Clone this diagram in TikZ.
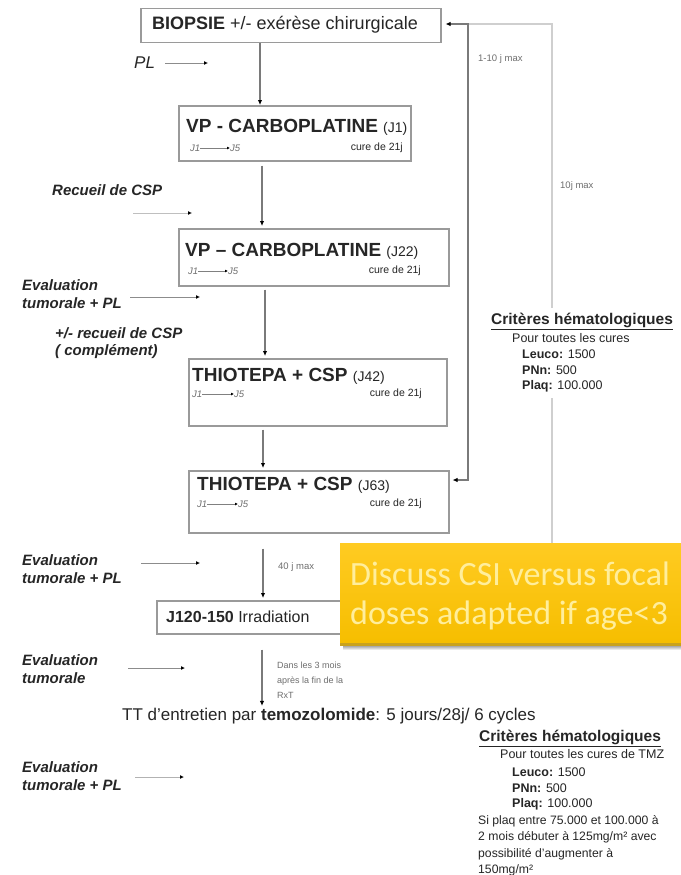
\documentclass[tikz,border=0pt]{standalone}
\usepackage{fontspec}
\setmainfont{Liberation Sans}
\newfontfamily\calloutfont{Carlito}
\usetikzlibrary{arrows.meta}

\newcommand\fsz[2]{\fontsize{#1}{#2}\selectfont}
\newcommand\dayfont{\fsz{14}{16}\mdseries}

\definecolor{frame}{HTML}{9A9A9A}
\definecolor{flow}{HTML}{7A7A7A}
\definecolor{ink}{HTML}{262626}
\definecolor{softink}{HTML}{6E6E6E}
\definecolor{gold}{HTML}{F6BE00}
\definecolor{goldlight}{HTML}{FFCB22}
\definecolor{golddark}{HTML}{C9A21C}
\definecolor{goldtext}{HTML}{FFEE9C}
\definecolor{shade}{HTML}{EBDDE8}
\definecolor{paleline}{HTML}{CFCFCF}

\begin{document}
\begin{tikzpicture}[x=1pt,y=-1pt,
  stepbox/.style={draw=frame, line width=1.5pt, inner sep=0pt, anchor=north west},
  txt/.style={anchor=west, inner sep=0pt, text=ink},
  title/.style={txt, font=\fsz{19}{22}\bfseries},
  tiny/.style={anchor=west, inner sep=0pt, text=softink, font=\fsz{9.5}{11}},
  cure/.style={anchor=east, inner sep=0pt, text=ink, font=\fsz{10.5}{12}},
  side/.style={anchor=west, inner sep=0pt, text=ink, align=left, font=\fsz{15}{17.5}\bfseries\itshape},
  crit/.style={anchor=west, inner sep=0pt, text=ink, font=\fsz{12.5}{14}},
  vflow/.style={draw=flow, line width=1.2pt, -{Latex[length=5pt,width=4.5pt,color=black]}},
  sidearrow/.style={draw=black!45, line width=0.8pt, -{Latex[length=4pt,width=4pt,color=black]}},
  inarrow/.style={draw=black!50, line width=0.6pt, -{Latex[length=3pt,width=3pt,color=black]}},
  callout/.style={anchor=west, inner sep=0pt, text=goldtext, font=\calloutfont\fsz{34}{36}},
]
\path[use as bounding box, fill=white] (0,0) rectangle (680,875);

% ---------- main column of treatment steps ----------
\node[stepbox, minimum width=300, minimum height=34] (biop) at (140,8) {};
\node[txt, font=\fsz{18}{20}] (biopt) at (152,25) {\textbf{BIOPSIE} +/- exérèse chirurgicale};

\node[stepbox, minimum width=232, minimum height=55] (vp1) at (178,105) {};
\node[title] (vp1t) at (186,127) {VP - CARBOPLATINE {\dayfont (J1)}};
\node[tiny, font=\fsz{9.5}{11}\itshape] (vp1a) at (190,148) {J1};
\node[tiny, font=\fsz{9.5}{11}\itshape] (vp1b) at (230,148) {J5};
\draw[inarrow] (vp1a.east) -- (vp1b.west);
\node[cure] at (403,148) {cure de 21j};

\node[stepbox, minimum width=270, minimum height=57] (vp2) at (178,228) {};
\node[title] (vp2t) at (185,251) {VP – CARBOPLATINE {\dayfont (J22)}};
\node[tiny, font=\fsz{9.5}{11}\itshape] (vp2a) at (188,271) {J1};
\node[tiny, font=\fsz{9.5}{11}\itshape] (vp2b) at (228,271) {J5};
\draw[inarrow] (vp2a.east) -- (vp2b.west);
\node[cure] at (421,271) {cure de 21j};

\node[stepbox, minimum width=258, minimum height=67] (th1) at (188,358) {};
\node[title] (th1t) at (192,376) {THIOTEPA + CSP {\dayfont (J42)}};
\node[tiny, font=\fsz{9.5}{11}\itshape] (th1a) at (192,394) {J1};
\node[tiny, font=\fsz{9.5}{11}\itshape] (th1b) at (234,394) {J5};
\draw[inarrow] (th1a.east) -- (th1b.west);
\node[cure] at (422,394) {cure de 21j};

\node[stepbox, minimum width=260, minimum height=62] (th2) at (188,470) {};
\node[title] (th2t) at (197,485) {THIOTEPA + CSP {\dayfont (J63)}};
\node[tiny, font=\fsz{9.5}{11}\itshape] (th2a) at (197,504) {J1};
\node[tiny, font=\fsz{9.5}{11}\itshape] (th2b) at (238,504) {J5};
\draw[inarrow] (th2a.east) -- (th2b.west);
\node[cure] at (422,504) {cure de 21j};

\node[stepbox, minimum width=200, minimum height=33] (rt) at (156,600) {};
\node[txt, font=\fsz{16}{18}] (rtt) at (166,617) {\textbf{J120-150} Irradiation};

\node[txt, font=\fsz{17}{19}] (tt) at (122,716) {TT d'entretien par \textbf{temozolomide}: 5 jours/28j/ 6 cycles};

% ---------- vertical flow arrows ----------
\coordinate (c1) at (260,0);
\coordinate (c2) at (262,0);
\coordinate (c3) at (265,0);
\coordinate (c4) at (263,0);
\draw[vflow] (biop.south -| c1) -- (vp1.north -| c1);
\draw[vflow] ([yshift=-4pt]vp1.south -| c2) -- ([yshift=2pt]vp2.north -| c2);
\draw[vflow] ([yshift=-3pt]vp2.south -| c3) -- ([yshift=2pt]th1.north -| c3);
\draw[vflow] ([yshift=-3pt]th1.south -| c4) -- ([yshift=2pt]th2.north -| c4);
\draw[vflow] ([yshift=-15pt]th2.south -| c4) -- ([yshift=2pt]rt.north -| c4);
\draw[vflow] ([yshift=-15pt]rt.south -| c2) -- ([yshift=2pt]tt.north -| c2);

\node[tiny] at (278,567) {40 j max};
\node[tiny, align=left, font=\fsz{9}{15}] at (277,680) {Dans les 3 mois\\après la fin de la\\RxT};

% ---------- timing connectors on the right ----------
\coordinate (r1) at (468,24);
\coordinate (r2) at (468,480);
\coordinate (g1) at (552,24);
\draw[draw=paleline, line width=2pt] (r1) -- (g1) -- (552,543);
\draw[draw=flow, line width=1.3pt, {Latex[length=5pt,width=4.5pt,color=black]}-{Latex[length=5pt,width=4.5pt,color=black]}, shorten <=4pt, shorten >=3pt]
  (biop.east |- r1) -- (r1) -- (r2) -- (th2.east |- r2);
\node[tiny] at (478,59) {1-10 j max};
\node[tiny] at (560,186) {10j max};

% ---------- haematological criteria ----------
\fill[white] (486,308) rectangle (680,398);
\node[crit, font=\fsz{15.5}{17}\bfseries] at (491,321) {\underline{Critères hématologiques}};
\node[crit] at (512,338) {Pour toutes les cures};
\node[crit] at (522,354) {\textbf{Leuco:} 1500};
\node[crit] at (522,370) {\textbf{PNn:} 500};
\node[crit] at (522,386) {\textbf{Plaq:} 100.000};

\node[crit, font=\fsz{15.5}{17}\bfseries] at (479,738) {\underline{Critères hématologiques}};
\node[crit] at (500,754) {Pour toutes les cures de TMZ};
\node[crit] at (512,772) {\textbf{Leuco:} 1500};
\node[crit] at (512,788) {\textbf{PNn:} 500};
\node[crit] at (512,804) {\textbf{Plaq:} 100.000};
\node[crit, anchor=north west, align=left, font=\fsz{12.2}{16.5}] at (478,815)
  {Si plaq entre 75.000 et 100.000 à\\2 mois débuter à 125mg/m² avec\\possibilité d'augmenter à\\150mg/m²};

% ---------- assessments on the left ----------
\node[txt, font=\fsz{17}{20}\itshape] (pl) at (134,63) {PL};
\coordinate (pl2) at (208,63);
\draw[sidearrow] ([xshift=10pt]pl.east) -- (pl2);

\node[side] (csp) at (52,190) {Recueil de CSP};
\coordinate (csp1) at (133,213);
\coordinate (csp2) at (192,213);
\draw[sidearrow, draw=black!25] (csp1) -- (csp2);

\node[side] (ev1) at (22,294) {Evaluation\\tumorale + PL};
\coordinate (ev1b) at (200,297);
\draw[sidearrow] ([xshift=8pt]ev1.east |- ev1b) -- (ev1b);

\node[side] (csp3) at (55,343) {+/- recueil de CSP\\( complément)};

\node[side] (ev2) at (22,569) {Evaluation\\tumorale + PL};
\coordinate (ev2a) at (141,563);
\coordinate (ev2b) at (200,563);
\draw[sidearrow] (ev2a) -- (ev2b);

\node[side] (ev3) at (22,669) {Evaluation\\tumorale};
\coordinate (ev3a) at (128,668);
\coordinate (ev3b) at (185,668);
\draw[sidearrow] (ev3a) -- (ev3b);

\node[side] (ev4) at (22,776) {Evaluation\\tumorale + PL};
\coordinate (ev4a) at (135,777);
\coordinate (ev4b) at (184,777);
\draw[sidearrow, draw=black!30] (ev4a) -- (ev4b);

% ---------- radiotherapy call-out ----------
\fill[shade] (343,644) rectangle (682,650);
\fill[golddark] (340,641) rectangle (682,646);
\shade[top color=goldlight, bottom color=gold] (340,543) rectangle (682,642);
\node[callout] (co1) at (350,574) {Discuss CSI versus focal};
\node[callout] (co2) at (350,616) {doses adapted if age<3};
\end{tikzpicture}
\end{document}
